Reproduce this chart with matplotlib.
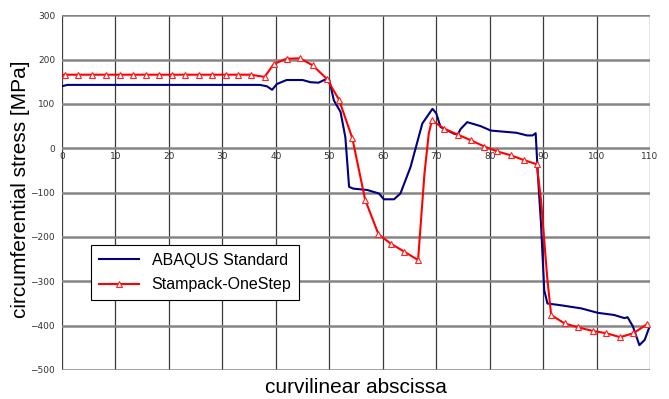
import matplotlib
matplotlib.use('Agg')
import matplotlib.pyplot as plt

# ABAQUS Standard curve
abaqus_x = [0, 1, 37, 38.3, 39.3, 40.2, 42, 45, 46.5, 48, 49.2, 50, 50.85, 52.1, 53.0, 53.7,
            54.5, 57.1, 59.3, 60.2, 62.1, 63.3, 65.2, 67.4, 69.3, 70.0, 70.8, 73.3, 74.0, 74.6,
            75.8, 78.3, 80.2, 85, 87, 88, 88.6, 89.0, 89.6, 89.9, 90.2, 90.8, 93.3, 97.1,
            100.2, 103.3, 105.2, 105.8, 106.8, 108.0, 109.0, 109.9]
abaqus_y = [140, 143, 143, 140, 132, 145, 154, 154, 149, 148, 155, 154, 108, 82, 25, -87,
            -91, -94, -102, -115, -115, -102, -42, 56, 89, 79, 48, 33, 31, 44,
            59, 50, 40, 35, 29, 29, 34, -57, -170, -245, -320, -350, -354, -361,
            -371, -376, -383, -381, -402, -444, -432, -402]

# Stampack-OneStep curve
stampack_x = [0, 0.6, 3.0, 5.6, 8.2, 10.9, 13.3, 15.8, 18.2, 20.6, 23.0, 25.7, 28.0, 30.6,
              32.9, 35.3, 37.9, 39.6, 42.0, 44.5, 46.9, 49.5, 51.8, 54.3, 56.7, 59.2, 61.5,
              64.0, 66.6, 67.8, 68.6, 69.2, 71.5, 74.0, 76.5, 79.0, 81.4, 84.0, 86.5, 88.8,
              89.6, 90.2, 90.8, 91.5, 94.0, 96.6, 99.3, 101.8, 104.4, 106.9, 109.4]
stampack_y = [166, 166, 166, 166, 166, 166, 166, 166, 166, 166, 166, 166, 166, 166,
              166, 166, 161, 190, 202, 203, 187, 157, 110, 23, -116, -194, -215,
              -233, -252, -57, 33, 63, 44, 31, 18, 4, -7, -16, -27, -36,
              -117, -207, -297, -376, -395, -404, -412, -417, -426, -417, -397]
no_marker = [0, 29, 30, 40, 41, 42]
marker_idx = [i for i in range(len(stampack_x)) if i not in no_marker]

x_ticks = [0, 10, 20, 30, 40, 50, 60, 70, 80, 90, 100, 110]
y_ticks = [-500, -400, -300, -200, -100, 0, 100, 200, 300]

fig = plt.figure(figsize=(6.69, 3.99), dpi=100)
ax = fig.add_axes([0.0927, 0.0727, 0.879, 0.889])

ax.set_xlim(0, 110)
ax.set_ylim(-500, 300)
ax.set_xticks(x_ticks)
ax.set_yticks(y_ticks)

# grid like the excel chart
for xv in x_ticks:
    ax.axvline(xv, color='#3a3a3a', lw=0.9, zorder=1)
for yv in y_ticks:
    ax.axhline(yv, color='#858585', lw=1.8, zorder=1)

ax.plot(abaqus_x, abaqus_y, color='#000080', lw=1.5, label='ABAQUS Standard', zorder=3)
ax.plot(stampack_x, stampack_y, color='#ff0000', lw=1.5, marker='^', markevery=marker_idx,
        markersize=5, markerfacecolor='white', markeredgecolor='#ff2020', markeredgewidth=0.8,
        label='Stampack-OneStep', zorder=4)

# x axis labels sit on the zero line
ax.spines['bottom'].set_position(('data', 0))
for s in ['bottom', 'top', 'right', 'left']:
    ax.spines[s].set_visible(False)
ax.tick_params(axis='both', length=0, labelsize=6.5, labelcolor='#333333')
ax.tick_params(axis='x', pad=3)
ax.tick_params(axis='y', pad=5)

ax.set_xlabel('curvilinear abscissa', fontsize=15, family='Liberation Sans', va='center')
ax.xaxis.set_label_coords(0.5, -0.05)
ax.set_ylabel('circumferential stress [MPa]', fontsize=15, family='Liberation Sans', va='center')
ax.yaxis.set_label_coords(-0.07, 0.51)

leg = ax.legend(loc='lower left', bbox_to_anchor=(0.049, 0.197), borderaxespad=0,
                fancybox=False, edgecolor='black', framealpha=1,
                prop={'family': 'Liberation Sans', 'size': 11.5},
                handlelength=2.5, borderpad=0.5, labelspacing=0.6)
leg.get_frame().set_linewidth(0.8)

plt.savefig('out.png', dpi=100)
